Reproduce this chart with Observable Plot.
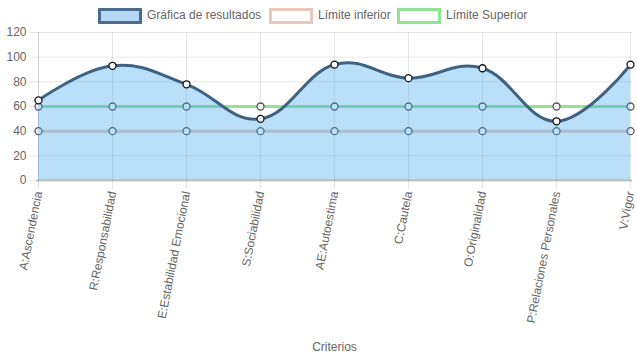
<!DOCTYPE html>
<html>
<head>
<meta charset="utf-8">
<script src="https://cdn.jsdelivr.net/npm/d3@7"></script>
<script src="https://cdn.jsdelivr.net/npm/@observablehq/plot@0.6"></script>
<style>
  body { margin: 0; background: #fff; font-family: "Liberation Sans", Arial, Helvetica, sans-serif; }
  #legend { position: relative; height: 22px; width: 637px; font-size: 12px; color: #666; }
  #legend .box { position: absolute; top: 8px; width: 38px; height: 10px; border: 3px solid; }
  #legend .lbl { position: absolute; top: 8px; line-height: 14px; white-space: nowrap; }
  #chart svg { display: block; }
</style>
</head>
<body>
<div id="legend"></div>
<div id="chart"></div>
<script>
const categories = ["A:Ascendencia","R:Responsabilidad","E:Estabilidad Emocional","S:Sociabilidad","AE:Autoestima","C:Cautela","O:Originalidad","P:Relaciones Personales","V:Vigor"];
const resultados = [65, 93, 78, 50, 94, 83, 91, 48, 94];
const limiteInferior = [40, 40, 40, 40, 40, 40, 40, 40, 40];
const limiteSuperior = [60, 60, 60, 60, 60, 60, 60, 60, 60];
const yTicks = [0, 20, 40, 60, 80, 100, 120];
const seriesNames = ["Gráfica de resultados", "Límite inferior", "Límite Superior"];

const colors = {
  resFill: "rgba(54,162,235,0.34)",
  resLine: "rgb(62,98,130)",
  low: "rgb(230,200,188)",
  up: "rgb(144,230,144)"
};

// legend
const legend = document.getElementById("legend");
const legendItems = [
  {name: seriesNames[0], x: 98, fill: "rgb(183,216,245)", border: "rgb(74,110,143)"},
  {name: seriesNames[1], x: 269, fill: "#fff", border: colors.low},
  {name: seriesNames[2], x: 397, fill: "#fff", border: colors.up}
];
for (const it of legendItems) {
  const b = document.createElement("div");
  b.className = "box";
  b.style.left = it.x + "px";
  b.style.background = it.fill;
  b.style.borderColor = it.border;
  legend.appendChild(b);
  const t = document.createElement("div");
  t.className = "lbl";
  t.style.left = (it.x + 49) + "px";
  t.textContent = it.name;
  legend.appendChild(t);
}

const rows = categories.map((c, i) => ({c, r: resultados[i], lo: limiteInferior[i], up: limiteSuperior[i]}));

const curveOpts = {curve: "cardinal", tension: -0.2};

const chart = Plot.plot({
  width: 637,
  height: 337,
  marginTop: 10,
  marginBottom: 179,
  marginLeft: 36,
  marginRight: 5,
  style: {fontFamily: "Liberation Sans, Arial, Helvetica, sans-serif", fontSize: "12px", color: "#666", background: "#fff"},
  x: {type: "point", domain: categories, padding: 0, label: null},
  y: {domain: [0, 120], label: null},
  marks: [
    Plot.gridY(yTicks, {stroke: "#000", strokeOpacity: 0.1}),
    Plot.gridX(categories, {stroke: "#000", strokeOpacity: 0.1}),
    Plot.ruleX([categories[0]], {stroke: "#000", strokeOpacity: 0.1}),
    Plot.lineY(rows, {x: "c", y: "lo", stroke: colors.low, strokeWidth: 3}),
    Plot.lineY(rows, {x: "c", y: "up", stroke: colors.up, strokeWidth: 3}),
    Plot.dot(rows, {x: "c", y: "lo", r: 3.5, fill: "#fff", stroke: "#555", strokeWidth: 1.3}),
    Plot.dot(rows, {x: "c", y: "up", r: 3.5, fill: "#fff", stroke: "#555", strokeWidth: 1.3}),
    Plot.areaY(rows, {x: "c", y: "r", fill: colors.resFill, ...curveOpts}),
    Plot.ruleY([0], {stroke: "#000", strokeOpacity: 0.18, strokeWidth: 2}),
    Plot.lineY(rows, {x: "c", y: "r", stroke: colors.resLine, strokeWidth: 3, ...curveOpts}),
    Plot.dot(rows, {x: "c", y: "r", r: 3.5, fill: "#fff", stroke: "#111", strokeWidth: 1.3}),
    Plot.axisY(yTicks, {tickSize: 6, tickPadding: 4, stroke: "#000", strokeOpacity: 0.1, fill: "#666", fontSize: 12, label: null}),
    Plot.axisX(categories, {tickSize: 9, tickPadding: 2, tickRotate: -79, stroke: "#000", strokeOpacity: 0.1, fill: "#666", fontSize: 12, label: null}),
    Plot.text(["Criterios"], {frameAnchor: "bottom", dy: 170, fill: "#666", fontSize: 12})
  ]
});
document.getElementById("chart").appendChild(chart);
</script>
</body>
</html>
